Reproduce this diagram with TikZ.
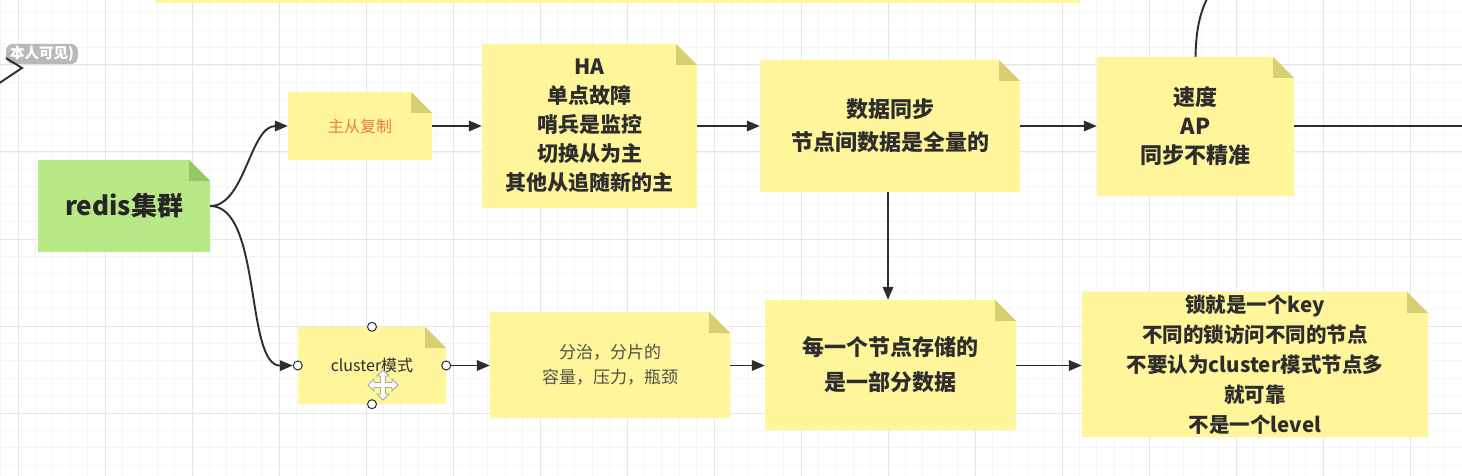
\documentclass[tikz,border=0pt]{standalone}
\usepackage{fontspec}
\setmainfont{Noto Sans CJK SC}
\usetikzlibrary{arrows.meta}
\definecolor{notey}{RGB}{255,245,155}
\definecolor{foldy}{RGB}{215,207,112}
\definecolor{noteg}{RGB}{185,232,135}
\definecolor{foldg}{RGB}{150,200,100}
\definecolor{ink}{RGB}{45,45,45}
\definecolor{softink}{RGB}{80,80,70}
\definecolor{orangetxt}{RGB}{236,124,66}
\definecolor{gridmin}{RGB}{245,245,245}
\definecolor{gridmaj}{RGB}{230,230,230}
\definecolor{pillgray}{RGB}{185,185,185}
\newcommand\stickynote[9]{%
  \fill[#6] (#2,#3) -- ({#4-21},#3) -- (#4,{#3+21}) -- (#4,#5) -- (#2,#5) -- cycle;
  \fill[#7] ({#4-21},#3) -- ({#4-21},{#3+21}) -- (#4,{#3+21}) -- cycle;
  \node[notetext,#8,minimum width={#4pt-#2pt},minimum height={#5pt-#3pt}] (#1) at ({(#2+#4)/2},{(#3+#5)/2}) {#9};}
\tikzset{
  notetext/.style={inner sep=0pt, align=center, text=ink},
  boldbig/.style={font=\bfseries\fontsize{21}{29}\selectfont},
  conn/.style={draw=ink, line width=1.9pt, -{Triangle[length=13pt,width=10.5pt]}},
  plainline/.style={draw=ink, line width=1.9pt},
  handle/.style={circle, draw=ink, fill=white, line width=1pt, minimum size=9pt, inner sep=0pt},
}
\begin{document}
\begin{tikzpicture}[x=1pt,y=-1pt]
\useasboundingbox (0,0) rectangle (1462,476);
\clip (0,0) rectangle (1462,476);
\fill[white] (0,0) rectangle (1462,476);
% grid
\foreach \i in {-1,...,84} {\draw[gridmin, line width=0.8pt] ({18+17.4*\i},0) -- ({18+17.4*\i},476);}
\foreach \i in {1,...,28} {\draw[gridmin, line width=0.8pt] (0,{-22+17.4*\i}) -- (1462,{-22+17.4*\i});}
\foreach \i in {0,...,16} {\draw[gridmaj, line width=1pt] ({18+87*\i},0) -- ({18+87*\i},476);}
\foreach \i in {1,...,5} {\draw[gridmaj, line width=1pt] (0,{-22+87*\i}) -- (1462,{-22+87*\i});}
% top partial note
\fill[notey] (155,-10) rectangle (1080,3);
% top-left fragments
\node[fill=pillgray, rounded corners=7pt, text=white, font=\bfseries\fontsize{14.5}{15}\selectfont, inner xsep=4pt, inner ysep=2.5pt, anchor=east] (pill) at (78,54) {本人可见)};
\coordinate (cv1) at (-2,84);
\coordinate (cv2) at (22,68);
\coordinate (cv3) at (6,58);
\draw[plainline] (cv1) -- (cv2) -- (cv3);
% notes
\stickynote{redis}{38}{160}{210}{252}{noteg}{foldg}{font=\bfseries\fontsize{26}{30}\selectfont, text=black!85}{redis集群}
\stickynote{zc}{288}{92}{432}{160}{notey}{foldy}{font=\fontsize{16}{20}\selectfont, text=orangetxt}{主从复制}
\stickynote{ha}{482}{44}{697}{208}{notey}{foldy}{boldbig}{HA\\单点故障\\哨兵是监控\\切换从为主\\其他从追随新的主}
\stickynote{sync}{760}{60}{1020}{192}{notey}{foldy}{font=\bfseries\fontsize{22}{33}\selectfont}{数据同步\\节点间数据是全量的}
\stickynote{sd}{1097}{57}{1294}{196}{notey}{foldy}{font=\bfseries\fontsize{22}{29}\selectfont}{速度\\AP\\同步不精准}
\stickynote{cl}{298}{327}{446}{404}{notey}{foldy}{font=\fontsize{16}{20}\selectfont}{cluster模式}
\stickynote{fz}{490}{312}{730}{418}{notey}{foldy}{font=\fontsize{17}{25}\selectfont, text=softink}{分治，分片的\\容量，压力，瓶颈}
\stickynote{mg}{765}{300}{1016}{430}{notey}{foldy}{font=\bfseries\fontsize{22}{35}\selectfont}{每一个节点存储的\\是一部分数据}
\stickynote{lock}{1082}{292}{1428}{437}{notey}{foldy}{font=\bfseries\fontsize{20.5}{30}\selectfont}{锁就是一个key\\不同的锁访问不同的节点\\不要认为cluster模式节点多\\就可靠\\不是一个level}
% selection handles on cluster node
\node[handle] (ht) at (cl.north) {};
\node[handle] (hb) at (cl.south) {};
\node[handle] (hl) at (cl.west) {};
\node[handle] (hr) at (cl.east) {};
% move cursor
\draw[gray!70, fill=white, line width=0.8pt, shift={(383,385)}]
  (0,-15) -- (6,-9) -- (2.5,-9) -- (2.5,-2.5) -- (9,-2.5) -- (9,-6) -- (15,0) -- (9,6) -- (9,2.5) -- (2.5,2.5) -- (2.5,9) -- (6,9) -- (0,15) -- (-6,9) -- (-2.5,9) -- (-2.5,2.5) -- (-9,2.5) -- (-9,6) -- (-15,0) -- (-9,-6) -- (-9,-2.5) -- (-2.5,-2.5) -- (-2.5,-9) -- (-6,-9) -- cycle;
% connectors
\draw[conn] (redis.east) .. controls (245,206) and (250,126) .. (zc.west);
\draw[conn] (redis.east) .. controls (262,206) and (245,366) .. (hl.west);
\draw[conn] (zc.east) -- (ha.west |- zc.east);
\draw[conn] (ha.east |- zc.east) -- (sync.west |- zc.east);
\draw[conn] (sync.east |- zc.east) -- (sd.west |- zc.east);
\coordinate (rightend) at (1470,126);
\draw[plainline] (sd.east |- rightend) -- (rightend);
\coordinate (topend) at (1208,-3);
\draw[plainline] (sd.north) .. controls (1196,30) and (1200,12) .. (topend);
\draw[conn] (sync.south -| 888,0) -- (mg.north -| 888,0);
\draw[conn] (hr.east) -- (fz.west |- hr.east);
\draw[conn] (fz.east |- hr.east) -- (mg.west |- hr.east);
\draw[conn] (mg.east |- hr.east) -- (lock.west |- hr.east);
\end{tikzpicture}
\end{document}
